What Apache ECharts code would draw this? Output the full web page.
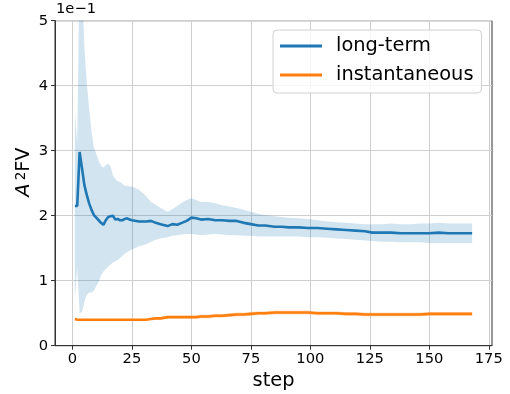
<!DOCTYPE html>
<html lang="en">
<head>
    <meta charset="UTF-8" />
    <title>A2FV vs step</title>
    <script src="https://cdn.jsdelivr.net/npm/echarts@6/dist/echarts.min.js"></script>
    <style>html, body { margin: 0; padding: 0; background: #fff; }</style>
</head>
<body>
    <div id="main" style="width: 510px; height: 394px"></div>
    <script>
        // values are in units of 1e-1 (the axis offset text)
        var steps = [1, 2, 3, 4, 5, 6, 7, 8, 9, 10, 11, 12, 13, 14, 15, 16, 17, 18, 19, 20, 21, 22, 23, 24, 25,
            28, 31, 33, 35, 37, 40, 42, 44, 46, 48, 50, 52, 54, 57, 60, 63, 66, 69, 72, 75, 78, 81, 85, 88, 91,
            95, 99, 103, 107, 111, 115, 119, 123, 126, 130, 134, 138, 142, 146, 150, 154, 158, 162, 168]

        var longTerm = [2.15, 2.15, 2.98, 2.73, 2.47, 2.32, 2.19, 2.09, 2.01, 1.97, 1.93, 1.89, 1.86, 1.93, 1.98,
            1.99, 2.00, 1.94, 1.95, 1.93, 1.93, 1.95, 1.96, 1.94, 1.93,
            1.91, 1.91, 1.92, 1.89, 1.87, 1.84, 1.87, 1.86, 1.89, 1.92, 1.97, 1.96, 1.94, 1.95, 1.93,
            1.93, 1.92, 1.92, 1.89, 1.87, 1.85, 1.85, 1.83, 1.83, 1.82, 1.82, 1.81, 1.81, 1.80, 1.79,
            1.78, 1.77, 1.76, 1.74, 1.74, 1.74, 1.73, 1.73, 1.73, 1.73, 1.74, 1.73, 1.73, 1.73]
        var longTermHigh = [3.6, 3.1, 6.0, 5.6, 4.6, 4.05, 3.65, 3.3, 3.05, 2.95, 2.85, 2.76, 2.74, 2.78, 2.80,
            2.76, 2.62, 2.57, 2.53, 2.52, 2.49, 2.46, 2.46, 2.45, 2.45,
            2.40, 2.30, 2.21, 2.17, 2.12, 2.06, 2.10, 2.15, 2.20, 2.24, 2.27, 2.24, 2.21, 2.21, 2.19,
            2.16, 2.14, 2.12, 2.09, 2.06, 2.03, 2.01, 1.99, 1.98, 1.97, 1.96, 1.95, 1.93, 1.91, 1.90,
            1.89, 1.88, 1.87, 1.87, 1.87, 1.88, 1.87, 1.87, 1.88, 1.88, 1.89, 1.88, 1.88, 1.88]
        var longTermLow = [0.70, 1.20, 0.50, 0.52, 0.68, 0.78, 0.82, 0.82, 0.85, 0.92, 0.98, 1.08, 1.14, 1.18, 1.22,
            1.25, 1.28, 1.30, 1.32, 1.35, 1.38, 1.42, 1.44, 1.46, 1.48,
            1.53, 1.56, 1.60, 1.63, 1.65, 1.67, 1.69, 1.70, 1.71, 1.72, 1.72, 1.71, 1.70, 1.71, 1.72,
            1.71, 1.70, 1.70, 1.69, 1.69, 1.68, 1.68, 1.68, 1.68, 1.68, 1.68, 1.67, 1.67, 1.66, 1.65,
            1.64, 1.63, 1.62, 1.61, 1.60, 1.60, 1.59, 1.59, 1.59, 1.58, 1.58, 1.58, 1.58, 1.58]

        var instant = [0.41, 0.40, 0.40, 0.40, 0.40, 0.40, 0.40, 0.40, 0.40, 0.40, 0.40, 0.40, 0.40, 0.40, 0.40,
            0.40, 0.40, 0.40, 0.40, 0.40, 0.40, 0.40, 0.40, 0.40, 0.40,
            0.40, 0.40, 0.41, 0.42, 0.42, 0.44, 0.44, 0.44, 0.44, 0.44, 0.44, 0.44, 0.45, 0.45, 0.46,
            0.46, 0.47, 0.48, 0.48, 0.49, 0.50, 0.50, 0.51, 0.51, 0.51, 0.51, 0.51, 0.50, 0.50, 0.50,
            0.49, 0.49, 0.48, 0.48, 0.48, 0.48, 0.48, 0.48, 0.48, 0.49, 0.49, 0.49, 0.49, 0.49]
        // half width of the orange band
        var instantSpread = [0.01, 0.01, 0.01, 0.01, 0.01, 0.01, 0.01, 0.01, 0.01, 0.01, 0.01, 0.01, 0.01, 0.01, 0.01,
            0.01, 0.01, 0.01, 0.01, 0.01, 0.01, 0.01, 0.01, 0.01, 0.01,
            0.01, 0.01, 0.02, 0.02, 0.02, 0.02, 0.02, 0.02, 0.02, 0.02, 0.02, 0.02, 0.03, 0.03, 0.03,
            0.03, 0.03, 0.03, 0.03, 0.03, 0.03, 0.03, 0.03, 0.03, 0.03, 0.03, 0.03, 0.03, 0.03, 0.03,
            0.03, 0.03, 0.03, 0.03, 0.03, 0.03, 0.03, 0.03, 0.03, 0.03, 0.03, 0.03, 0.03, 0.03]

        var xTicks = [0, 25, 50, 75, 100, 125, 150, 175]

        var font = 'DejaVu Sans'
        var blue = '#1f77b4'
        var orange = '#ff7f0e'

        function pairs(ys) {
            return steps.map(function (s, i) { return [s, ys[i]] })
        }

        // filled band between low and high, drawn as one polygon
        function band(lows, highs, fill) {
            var rows = steps.map(function (s, i) { return [s, lows[i], highs[i]] })
            return {
                type: 'custom', silent: true, clip: true, z: 1,
                data: rows,
                encode: { x: 0, y: [1, 2] },
                renderItem: function (params, api) {
                    if (params.dataIndex !== 0) return
                    var top = [], bottom = []
                    rows.forEach(function (r) {
                        top.push(api.coord([r[0], r[2]]))
                        bottom.push(api.coord([r[0], r[1]]))
                    })
                    return {
                        type: 'polygon',
                        shape: { points: top.concat(bottom.reverse()) },
                        style: { fill: fill, stroke: null }
                    }
                }
            }
        }

        var chart = echarts.init(document.getElementById('main'))
        chart.setOption({
            animation: false,
            grid: {
                left: 55, right: 18, top: 20.7, bottom: 48.3,
                outerBoundsMode: 'none', containLabel: false,
                show: true, borderColor: '#333', borderWidth: 1, backgroundColor: 'transparent'
            },
            legend: {
                data: ['long-term', 'instantaneous'],
                orient: 'vertical',
                left: 273, top: 30,
                icon: 'rect', itemWidth: 42, itemHeight: 3, itemGap: 9,
                padding: [6, 8, 8, 7],
                backgroundColor: 'rgba(255,255,255,0.8)',
                borderColor: '#d0d0d0', borderWidth: 1, borderRadius: 4,
                textStyle: { fontFamily: font, fontSize: 19.4, color: '#000', lineHeight: 20, padding: [0, 0, 0, 9] }
            },
            xAxis: {
                type: 'value', min: -7.35, max: 176.35,
                name: 'step', nameLocation: 'middle', nameGap: 25,
                nameTextStyle: { fontFamily: font, fontSize: 19.4, color: '#000' },
                axisLine: { onZero: false, lineStyle: { color: '#333' } },
                axisTick: { show: true, length: 4, customValues: xTicks, lineStyle: { color: '#333' } },
                axisLabel: { customValues: xTicks, margin: 6, fontFamily: font, fontSize: 14.7, color: '#000' },
                splitLine: { show: true, lineStyle: { color: '#cfcfcf', width: 1 } }
            },
            yAxis: {
                type: 'value', min: 0, max: 5, interval: 1,
                axisLine: { show: true, onZero: false, lineStyle: { color: '#333' } },
                axisTick: { show: true, length: 4, lineStyle: { color: '#333' } },
                axisLabel: { margin: 7, fontFamily: font, fontSize: 14.7, color: '#000' },
                splitLine: { show: true, lineStyle: { color: '#cfcfcf', width: 1 } }
            },
            graphic: [
                {
                    type: 'text', x: 56, y: 9,
                    style: { text: '1e\u22121', font: '14.7px "DejaVu Sans"', fill: '#000', align: 'left', verticalAlign: 'middle' }
                },
                {
                    type: 'text', x: 24, y: 172, rotation: Math.PI / 2,
                    style: {
                        text: '{a|A}{s|2}{b|FV}', align: 'center', verticalAlign: 'middle',
                        rich: {
                            a: { fontFamily: font, fontSize: 19.4, fontStyle: 'italic', fill: '#000', padding: [0, 3, 0, 0] },
                            s: { fontFamily: font, fontSize: 13.5, fill: '#000', verticalAlign: 'top' },
                            b: { fontFamily: font, fontSize: 19.4, fill: '#000' }
                        }
                    }
                }
            ],
            series: [
                band(longTermLow, longTermHigh, 'rgba(31,119,180,0.2)'),
                band(instant.map(function (v, i) { return v - instantSpread[i] }),
                    instant.map(function (v, i) { return v + instantSpread[i] }), 'rgba(255,127,14,0.25)'),
                {
                    name: 'long-term', type: 'line', data: pairs(longTerm),
                    symbol: 'none', color: blue, lineStyle: { color: blue, width: 2.6 }, z: 3
                },
                {
                    name: 'instantaneous', type: 'line', data: pairs(instant),
                    symbol: 'none', color: orange, lineStyle: { color: orange, width: 2.6 }, z: 3
                }
            ]
        })
    </script>
</body>
</html>
